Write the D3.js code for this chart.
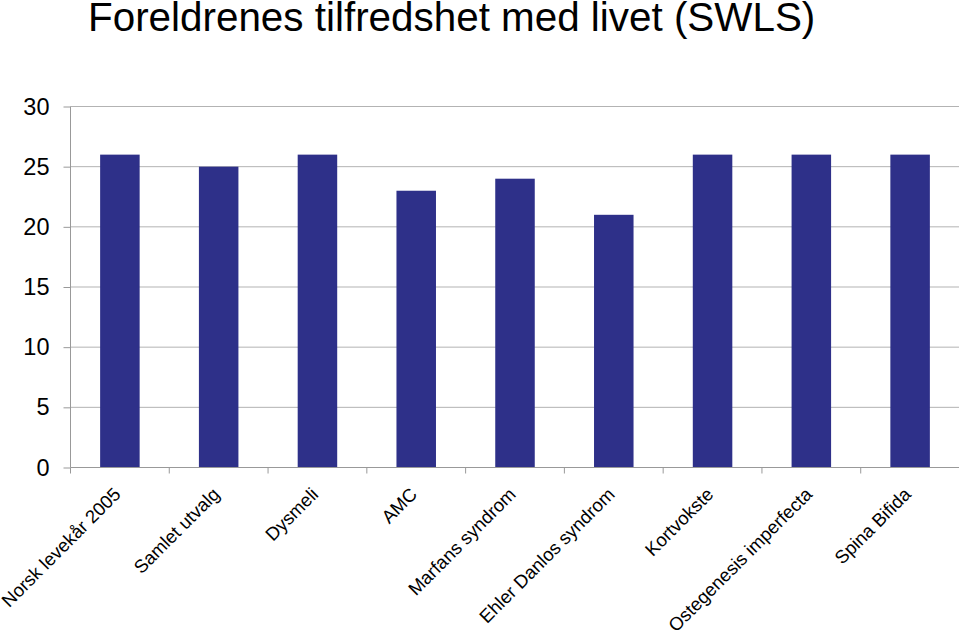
<!DOCTYPE html>
<html>
<head>
<meta charset="utf-8">
<script src="https://cdn.jsdelivr.net/npm/d3@7"></script>
<style>
html,body{margin:0;padding:0;background:#fff;}
svg{display:block;font-family:Arial,"Liberation Sans",sans-serif;}
</style>
</head>
<body>
<svg id="chart" width="959" height="630"></svg>
<script>
const title = "Foreldrenes tilfredshet med livet (SWLS)";
const categories = ["Norsk levekår 2005","Samlet utvalg","Dysmeli","AMC","Marfans syndrom","Ehler Danlos syndrom","Kortvokste","Ostegenesis imperfecta","Spina Bifida"];
const values = [26,25,26,23,24,21,26,26,26];
const yTicks = [0,5,10,15,20,25,30];

(function(){
const svg = d3.select("#chart");
const pLeft = 70.5, pRight = 959.5, pTop = 106.5, pBottom = 467.5;

const x = d3.scaleBand().domain(categories).range([pLeft, pRight]).paddingInner(0.6).paddingOuter(0.3);
const xb = d3.scaleBand().domain(categories).range([pLeft, pRight]).padding(0);
const y = d3.scaleLinear().domain([0,30]).range([pBottom, pTop]);

// title
svg.append("text").attr("x", 88).attr("y", 31).attr("font-size", 40.4).attr("fill", "#000").text(title);

// gridlines
svg.append("g").selectAll("line").data(yTicks.filter(d=>d>0)).join("line")
  .attr("x1", pLeft).attr("x2", pRight).attr("y1", d=>y(d)).attr("y2", d=>y(d))
  .attr("stroke", "#b3b3b3").attr("stroke-width", 1);

// bars
svg.append("g").selectAll("rect").data(values).join("rect")
  .attr("x", (d,i)=>x(categories[i]))
  .attr("width", x.bandwidth())
  .attr("y", d=>y(d))
  .attr("height", d=>y(0)-y(d))
  .attr("fill", "#2e3089");

// y axis
const yAxis = d3.axisLeft(y).tickValues(yTicks).tickSize(7).tickPadding(14).tickFormat(d3.format("d"));
const gy = svg.append("g").attr("transform", `translate(${pLeft},0)`).call(yAxis);
gy.select(".domain").attr("stroke", "#999").attr("d", `M0,${pTop}V${pBottom}`);
gy.selectAll(".tick line").attr("stroke", "#999");
gy.selectAll(".tick text").attr("font-size", 23.5).attr("font-family", "Arial, 'Liberation Sans', sans-serif").attr("fill", "#000");

// x axis baseline and ticks
const gx = svg.append("g");
gx.append("line").attr("x1", pLeft).attr("x2", pRight).attr("y1", pBottom).attr("y2", pBottom).attr("stroke", "#999");
const tickXs = categories.map(c=>xb(c)).concat([pRight]);
gx.selectAll("line.t").data(tickXs).join("line").attr("class","t")
  .attr("x1", d=>d).attr("x2", d=>d)
  .attr("y1", pBottom).attr("y2", pBottom+6).attr("stroke", "#999");

// x labels
gx.selectAll("text").data(categories).join("text")
  .attr("transform", c=>`translate(${x(c)+x.bandwidth()/2+2},${pBottom+28}) rotate(-45)`)
  .attr("text-anchor", "end")
  .attr("font-size", 18.5)
  .attr("fill", "#000")
  .text(c=>c);
})();
</script>
</body>
</html>
